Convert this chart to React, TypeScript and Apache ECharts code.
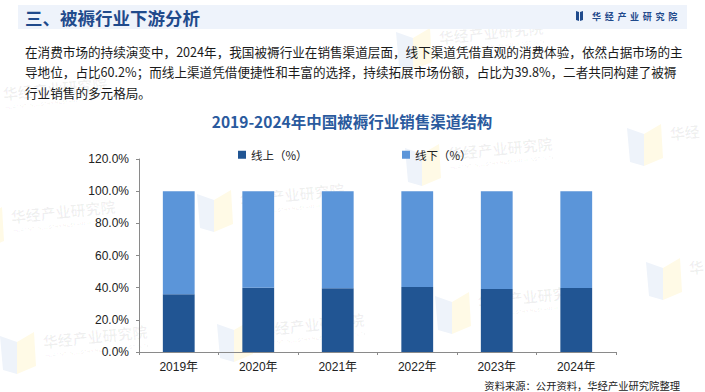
import React, { useEffect, useRef } from "react";
import * as echarts from "echarts";

const years = ["2019年", "2020年", "2021年", "2022年", "2023年", "2024年"];
const onlineShare = [35.9, 39.9, 39.7, 40.4, 39.1, 39.8];
const offlineShare = [64.1, 60.1, 60.3, 59.6, 60.9, 60.2];
const seriesNames = ["线上（%）", "线下（%）"];
const yMax = 120;
const yStep = 20;

const headerTitle = "三、被褥行业下游分析";
const brandChars = ["华", "经", "产", "业", "研", "究", "院"];
const bodyLines = [
  "在消费市场的持续演变中，2024年，我国被褥行业在销售渠道层面，线下渠道凭借直观的消费体验，依然占据市场的主",
  "导地位，占比60.2%；而线上渠道凭借便捷性和丰富的选择，持续拓展市场份额，占比为39.8%，二者共同构建了被褥",
  "行业销售的多元格局。",
];
const chartTitle = "2019-2024年中国被褥行业销售渠道结构";
const sourceText = "资料来源：公开资料，华经产业研究院整理";
const watermarkText = "华经产业研究院";
const watermarkSub = "HUAJING INDUSTRY RESEARCH INSTITUTE";
// [x, y, visible characters of the brand name, show subtitle]
const watermarkSpots: [number, number, number, boolean][] = [
  [396, 26, 7, true],
  [405, 142, 7, true],
  [627, 122, 2, false],
  [197, 188, 7, true],
  [217, 318, 7, true],
  [435, 290, 7, true],
  [646, 256, 1, false],
  [-32, 205, 7, true],
  [-40, 82, 7, true],
  [0, 330, 7, true],
];

const CJK = '"Noto Sans CJK SC", "Noto Sans", sans-serif';
const NUM = '"Liberation Sans", Arial, "Noto Sans CJK SC", sans-serif';
const DARK = "#215593";
const LIGHT = "#5B95D9";

function watermark(x: number, y: number, chars: number, sub: boolean) {
  const children: any[] = [
    { type: "polygon", z: 0, shape: { points: [[0, 6], [17, 12], [17, 44], [3, 40]] }, style: { fill: "#EEF3FA" } },
    { type: "polygon", z: 0, shape: { points: [[17, 12], [34, 2], [36, 36], [17, 44]] }, style: { fill: "#FFFAE6" } },
    {
      type: "text",
      z: 0,
      x: 42,
      y: 4,
      rotation: 0.1,
      style: { text: watermarkText.slice(0, chars), font: `bold 15px ${CJK}`, fill: "rgba(0,0,0,0.06)" },
    },
  ];
  if (sub) {
    children.push({
      type: "text",
      z: 0,
      x: 45,
      y: 23,
      rotation: 0.1,
      style: { text: watermarkSub, font: `5px ${NUM}`, fill: "rgba(0,0,0,0.07)" },
    });
  }
  return { type: "group", x, y, z: 0, silent: true, children };
}

export default function App() {
  const ref = useRef<HTMLDivElement>(null);
  useEffect(() => {
    if (!ref.current) return;
    const chart = echarts.init(ref.current, undefined, { renderer: "svg" });
    const graphics: any[] = [];
    watermarkSpots.forEach(([x, y, c, s]) => graphics.push(watermark(x, y, c, s)));
    graphics.push({
      type: "rect",
      z: 5,
      shape: { x: 18, y: 5, width: 669, height: 24 },
      style: { fill: "#EEF3FB" },
    });
    graphics.push({
      type: "text",
      z: 6,
      x: 25,
      y: 17.5,
      style: { text: headerTitle, font: `bold 17.5px ${CJK}`, fill: "#1F4A8C", textVerticalAlign: "middle" },
    });
    graphics.push({ type: "polygon", z: 6, shape: { points: [[576, 11], [579, 12], [579, 21], [576, 20]] }, style: { fill: "#1F4A8C" } });
    graphics.push({ type: "polygon", z: 6, shape: { points: [[580, 12], [583, 11], [583, 20], [580, 21]] }, style: { fill: "#1F4A8C" } });
    brandChars.forEach((c, i) => {
      graphics.push({
        type: "text",
        z: 6,
        x: 592 + i * 12.7,
        y: 16.5,
        style: { text: c, font: `bold 9px ${CJK}`, fill: "#1F4A8C", textVerticalAlign: "middle" },
      });
    });
    bodyLines.forEach((line, i) => {
      graphics.push({
        type: "text",
        z: 6,
        x: 25,
        y: 51 + i * 20.5,
        style: { text: line, font: `12.6px ${CJK}`, fill: "#1A1A1A", textVerticalAlign: "middle" },
      });
    });
    graphics.push({
      type: "text",
      z: 6,
      x: 352,
      y: 121,
      style: { text: chartTitle, font: `bold 15.5px ${CJK}`, fill: "#2A5A9E", textAlign: "center", textVerticalAlign: "middle" },
    });
    graphics.push({
      type: "text",
      z: 6,
      x: 680,
      y: 385,
      style: { text: sourceText, font: `10.3px ${CJK}`, fill: "#222", textAlign: "right", textVerticalAlign: "middle" },
    });

    chart.setOption({
      animation: false,
      backgroundColor: "#fff",
      graphic: { elements: graphics },
      legend: [
        {
          data: [seriesNames[0]],
          left: 233,
          top: 144,
          itemWidth: 8,
          itemHeight: 8,
          itemGap: 5,
          icon: "rect",
          textStyle: { fontSize: 11.5, color: "#222", fontFamily: CJK },
        },
        {
          data: [seriesNames[1]],
          left: 397,
          top: 144,
          itemWidth: 8,
          itemHeight: 8,
          itemGap: 5,
          icon: "rect",
          textStyle: { fontSize: 11.5, color: "#222", fontFamily: CJK },
        },
      ],
      grid: { left: 139, right: 89, top: 159, bottom: 40, containLabel: false },
      xAxis: {
        type: "category",
        data: years,
        axisLine: { lineStyle: { color: "#8A8A8A", width: 1 } },
        axisTick: { show: true, length: 3, lineStyle: { color: "#8A8A8A" } },
        axisLabel: { color: "#222", fontSize: 12, fontFamily: NUM, margin: 9 },
      },
      yAxis: {
        type: "value",
        min: 0,
        max: yMax,
        interval: yStep,
        axisLine: { show: true, lineStyle: { color: "#8A8A8A", width: 1 } },
        axisTick: { show: true, length: 3, lineStyle: { color: "#8A8A8A" } },
        splitLine: { show: false },
        axisLabel: {
          color: "#222",
          fontSize: 12,
          fontFamily: NUM,
          margin: 10,
          formatter: (v: number) => v.toFixed(1) + "%",
        },
      },
      series: [
        {
          name: seriesNames[0],
          type: "bar",
          stack: "total",
          barWidth: "40%",
          data: onlineShare,
          itemStyle: { color: DARK },
          z: 2,
        },
        {
          name: seriesNames[1],
          type: "bar",
          stack: "total",
          barWidth: "40%",
          data: offlineShare,
          itemStyle: { color: LIGHT },
          z: 2,
        },
      ],
    });
    return () => chart.dispose();
  }, []);
  return <div ref={ref} style={{ width: 705, height: 392, position: "absolute", left: 0, top: 0 }} />;
}
